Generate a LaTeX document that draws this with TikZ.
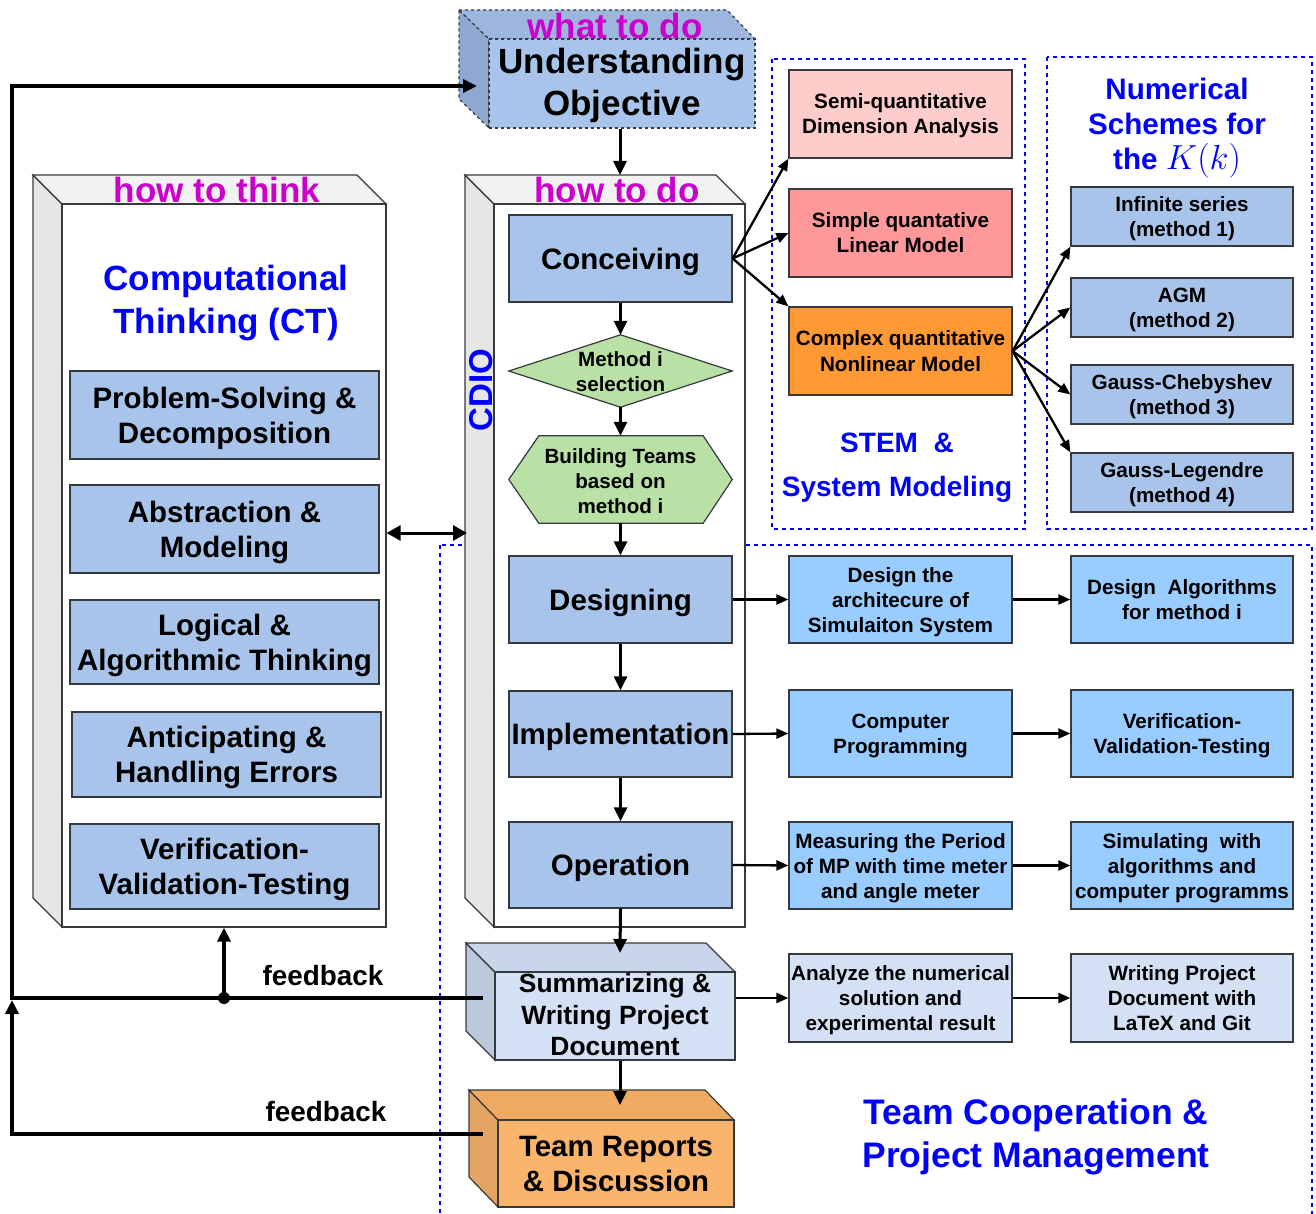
\documentclass[tikz,border=0pt]{standalone}
\usepackage{graphicx}
\usepackage{fontspec}
\setmainfont{Liberation Sans}
\usetikzlibrary{arrows.meta,calc}
\definecolor{bordc}{HTML}{36393D}
\definecolor{cblue}{HTML}{A9C4EB}
\definecolor{lblue}{HTML}{99CCFF}
\definecolor{pblue}{HTML}{D4E1F5}
\definecolor{cpink}{HTML}{FFCCCC}
\definecolor{csalm}{HTML}{FF9999}
\definecolor{corng}{HTML}{FF9933}
\definecolor{cgreen}{HTML}{B9E0A5}
\definecolor{cmag}{HTML}{CC00CC}
\definecolor{objtop}{HTML}{9DB6DD}
\definecolor{objleft}{HTML}{8FA8D1}
\definecolor{sumtop}{HTML}{C8D5EB}
\definecolor{sumleft}{HTML}{BCC8DC}
\definecolor{teamfront}{HTML}{FAB46C}
\definecolor{teamtop}{HTML}{EFAA62}
\definecolor{teamleft}{HTML}{E4A464}
\definecolor{grayleft}{HTML}{E6E6E6}
\definecolor{graytop}{HTML}{F2F2F2}
\newcommand\fz[2]{\fontsize{#1}{#2}\selectfont\bfseries}
\tikzset{
  box/.style={draw=bordc, line width=1.3pt, align=center, inner sep=0pt, text depth=0pt},
  face/.style={draw=bordc, line width=1.2pt},
  flow/.style={line width=3pt, -{Triangle[length=14pt,width=13pt]}},
  sarrow/.style={line width=2.3pt, -{Triangle[length=12pt,width=10pt]}},
  fbline/.style={line width=3.5pt},
  dframe/.style={draw=blue, dash pattern=on 4pt off 4pt, line width=1.2pt},
  lbl/.style={align=center, inner sep=0pt},
}
\begin{document}
\begin{tikzpicture}[x=1pt,y=-1pt]
\useasboundingbox (0,0) rectangle (1316,1214);
\clip (0,0) rectangle (1316,1214);
\fill[white] (0,0) rectangle (1316,1214);

% dashed frames
\draw[dframe] (772,59) rectangle (1025,529);
\draw[dframe] (1047,57) rectangle (1312,529);
\draw[dframe] (440,545) rectangle (1312,1240);

% Understanding objective (3D dashed)
\draw[face, dashed, fill=objleft] (459,10) -- (489,39) -- (489,128) -- (459,99) -- cycle;
\draw[face, dashed, fill=objtop] (459,10) -- (727,10) -- (755,39) -- (489,39) -- cycle;
\node[box, dashed, fill=cblue, minimum width=266pt, minimum height=89pt] (obj) at (622,83.5) {};
\node[lbl, font=\fz{35}{42}] (objt) at (622,85) {Understanding\\Objective};
\node[lbl, text=cmag, font=\fz{35}{40}] (whatdo) at (615,26) {what to do};

% Left CT panel
\draw[face, fill=grayleft] (33,175) -- (62,204) -- (62,927) -- (33,898) -- cycle;
\draw[face, fill=graytop] (33,175) -- (357,175) -- (386,204) -- (62,204) -- cycle;
\node[face, fill=white, minimum width=324pt, minimum height=723pt, inner sep=0pt] (ctp) at (224,565.5) {};
\node[lbl, text=cmag, font=\fz{35}{40}] (howthink) at (217,190) {how to think};
\node[lbl, text=blue, font=\fz{35}{43}] (ctt) at (226,303) {Computational\\Thinking (CT)};
\node[box, fill=cblue, minimum width=309pt, minimum height=88pt, font=\fz{29.5}{35}] (ct1) at (224.5,415) {Problem-Solving \&\\Decomposition};
\node[box, fill=cblue, minimum width=309pt, minimum height=88pt, font=\fz{29.5}{35}] (ct2) at (224.5,529) {Abstraction \&\\Modeling};
\node[box, fill=cblue, minimum width=309pt, minimum height=84pt, font=\fz{29.5}{35}] (ct3) at (224.5,642) {Logical \&\\Algorithmic Thinking};
\node[box, fill=cblue, minimum width=309pt, minimum height=85pt, font=\fz{29.5}{35}] (ct4) at (226.5,754.5) {Anticipating \&\\Handling Errors};
\node[box, fill=cblue, minimum width=309pt, minimum height=85pt, font=\fz{29.5}{35}] (ct5) at (224.5,866.5) {Verification-\\Validation-Testing};

% CDIO panel
\draw[face, fill=grayleft] (465,175) -- (494,204) -- (494,927) -- (465,898) -- cycle;
\draw[face, fill=graytop] (465,175) -- (716,175) -- (745,204) -- (494,204) -- cycle;
\node[face, fill=white, minimum width=251pt, minimum height=723pt, inner sep=0pt] (cdio) at (619.5,565.5) {};
\coordinate (cdiotop) at (620,175);
\coordinate (cdioleft) at (467,533);
\node[lbl, text=cmag, font=\fz{35}{40}] (howdo) at (617,190) {how to do};
\node[lbl, text=blue, font=\fz{33}{40}, rotate=90] (cdiot) at (481,390) {CDIO};

\node[box, fill=cblue, minimum width=223pt, minimum height=87pt, font=\fz{29.5}{35}] (conc) at (620.5,258.5) {Conceiving};
\node[lbl, minimum width=223pt, minimum height=72pt] (meth) at (620.5,371) {};
\draw[face, fill=cgreen] (meth.west) -- (meth.north) -- (meth.east) -- (meth.south) -- cycle;
\node[lbl, font=\fz{20.6}{25}] at (620.5,372) {Method i\\selection};
\node[lbl, minimum width=223pt, minimum height=87pt] (hexn) at (620.5,479.5) {};
\draw[face, fill=cgreen] (hexn.west) -- ($(hexn.north west)+(30,0)$) -- ($(hexn.north east)+(-29,0)$) -- (hexn.east) -- ($(hexn.south east)+(-29,0)$) -- ($(hexn.south west)+(30,0)$) -- cycle;
\node[lbl, font=\fz{20.6}{25}] at (620.5,481) {Building Teams\\based on\\method i};
\node[box, fill=cblue, minimum width=223pt, minimum height=87pt, font=\fz{29.5}{35}] (desg) at (620.5,599.5) {Designing};
\node[box, fill=cblue, minimum width=223pt, minimum height=86pt, font=\fz{29.5}{35}] (impl) at (620.5,734) {Implementation};
\node[box, fill=cblue, minimum width=223pt, minimum height=86pt, font=\fz{29.5}{35}] (oper) at (620.5,865) {Operation};

% Summarizing 3D box
\draw[face, fill=sumleft] (466,943) -- (495,972) -- (495,1060) -- (466,1031) -- cycle;
\draw[face, fill=sumtop] (466,943) -- (706,943) -- (735,972) -- (495,972) -- cycle;
\node[box, fill=pblue, minimum width=240pt, minimum height=88pt] (summ) at (615,1016) {};
\node[lbl, font=\fz{26.4}{31.5}] at (615,1015) {Summarizing \&\\Writing Project\\Document};
\coordinate (sumtopc) at (620,953);
\coordinate (sumin) at (483,998);

% Team reports 3D box
\draw[face, fill=teamleft] (469,1090) -- (498,1120) -- (498,1207) -- (469,1177) -- cycle;
\draw[face, fill=teamtop] (469,1090) -- (705,1090) -- (734,1120) -- (498,1120) -- cycle;
\node[box, fill=teamfront, minimum width=236pt, minimum height=87pt, font=\fz{29.4}{35}] (teamr) at (616,1163.5) {Team Reports\\\& Discussion};
\coordinate (teamtopc) at (620,1105);
\coordinate (teamin) at (483,1134);

% STEM column
\node[box, fill=cpink, minimum width=223pt, minimum height=88pt, font=\fz{20.7}{25}] (semi) at (900.5,114) {Semi-quantitative\\Dimension Analysis};
\node[box, fill=csalm, minimum width=223pt, minimum height=88pt, font=\fz{20.7}{25}] (simp) at (900.5,233) {Simple quantative\\Linear Model};
\node[box, fill=corng, minimum width=223pt, minimum height=88pt, font=\fz{20.7}{25}] (comp) at (900.5,351) {Complex quantitative\\Nonlinear Model};
\node[lbl, text=blue, font=\fz{28}{44}] (stem) at (897,468) {STEM\ \ \&\\System Modeling};

% Numerical schemes column
\node[lbl, text=blue, font=\fz{29.6}{35}] (numt) at (1177,128) {Numerical\\Schemes for\\the \scalebox{1.4}{$K(k)$}};
\node[box, fill=cblue, minimum width=222pt, minimum height=59pt, font=\fz{20.7}{25}] (inf) at (1182,216.5) {Infinite series\\(method 1)};
\node[box, fill=cblue, minimum width=222pt, minimum height=59pt, font=\fz{20.7}{25}] (agm) at (1182,307.5) {AGM\\(method 2)};
\node[box, fill=cblue, minimum width=222pt, minimum height=59pt, font=\fz{20.7}{25}] (gch) at (1182,394.5) {Gauss-Chebyshev\\(method 3)};
\node[box, fill=cblue, minimum width=222pt, minimum height=59pt, font=\fz{20.7}{25}] (gleg) at (1182,482.5) {Gauss-Legendre\\(method 4)};

% lower right rows
\node[box, fill=lblue, minimum width=223pt, minimum height=87pt, font=\fz{20.7}{25}] (arch) at (900.5,599.5) {Design the\\architecure of\\Simulaiton System};
\node[box, fill=lblue, minimum width=222pt, minimum height=87pt, font=\fz{20.7}{25}] (alg) at (1182,599.5) {Design\ \ Algorithms\\for method i};
\node[box, fill=lblue, minimum width=223pt, minimum height=87pt, font=\fz{20.7}{25}] (prog) at (900.5,733.5) {Computer\\Programming};
\node[box, fill=lblue, minimum width=222pt, minimum height=87pt, font=\fz{20.7}{25}] (vvt) at (1182,733.5) {Verification-\\Validation-Testing};
\node[box, fill=lblue, minimum width=223pt, minimum height=87pt, font=\fz{20.7}{25}] (meas) at (900.5,865.5) {Measuring the Period\\of MP with time meter\\and angle meter};
\node[box, fill=lblue, minimum width=222pt, minimum height=87pt, font=\fz{20.7}{25}] (simu) at (1182,865.5) {Simulating\ \ with\\algorithms and\\computer programms};
\node[box, fill=pblue, minimum width=223pt, minimum height=88pt, font=\fz{20.7}{25}] (anal) at (900.5,998) {Analyze the numerical\\solution and\\experimental result};
\node[box, fill=pblue, minimum width=222pt, minimum height=88pt, font=\fz{20.7}{25}] (wpd) at (1182,998) {Writing Project\\Document with\\LaTeX and Git};
\node[lbl, text=blue, font=\fz{35.5}{43}] (teamt) at (1036,1137) {Team Cooperation \&\\Project Management};

% main flow arrows
\draw[flow] (obj.south -| cdiotop) -- (cdiotop);
\draw[flow] (conc.south) -- (meth.north);
\draw[flow] (meth.south) -- (hexn.north);
\draw[flow] (hexn.south) -- (desg.north);
\draw[flow] (desg.south) -- (impl.north);
\draw[flow] (impl.south) -- (oper.north);
\draw[flow] (oper.south) -- (sumtopc);
\draw[flow] (summ.south -| sumtopc) -- (teamtopc);

% double arrow CT <-> CDIO
\draw[line width=3pt, {Triangle[length=14pt,width=15pt]}-{Triangle[length=14pt,width=15pt]}] (ctp.east |- cdioleft) -- (cdioleft);

% conceiving branches
\draw[sarrow] (conc.east) -- (semi.south west);
\draw[sarrow] (conc.east) -- (simp.west);
\draw[sarrow] (conc.east) -- (comp.north west);
% complex branches
\draw[sarrow] (comp.east) -- (inf.south west);
\draw[sarrow] (comp.east) -- (agm.west);
\draw[sarrow] (comp.east) -- (gch.west);
\draw[sarrow] (comp.east) -- (gleg.north west);

% rows
\draw[sarrow] (desg.east) -- (arch.west);
\draw[sarrow] (arch.east) -- (alg.west);
\draw[sarrow] (impl.east) -- (prog.west);
\draw[sarrow] (prog.east) -- (vvt.west);
\draw[sarrow] (oper.east) -- (meas.west);
\draw[sarrow] (meas.east) -- (simu.west);
\draw[sarrow] (summ.east |- anal.west) -- (anal.west);
\draw[sarrow] (anal.east) -- (wpd.west);

% feedback
\coordinate (fbj) at (224,998);
\coordinate (objin) at (477,86);
\draw[fbline, -{Triangle[length=14pt,width=13pt]}] (sumin) -- (12,998) -- (12,86) -- (objin);
\draw[fbline, -{Triangle[length=14pt,width=13pt]}] (teamin) -- (12,1134) -- (12,1000);
\fill (fbj) circle (6pt);
\draw[fbline, -{Triangle[length=14pt,width=13pt]}] (fbj) -- (ctp.south -| fbj);
\node[lbl, font=\fz{27.9}{32}] (fb1) at (323,976) {feedback};
\node[lbl, font=\fz{27.9}{32}] (fb2) at (326,1112) {feedback};
\end{tikzpicture}
\end{document}
